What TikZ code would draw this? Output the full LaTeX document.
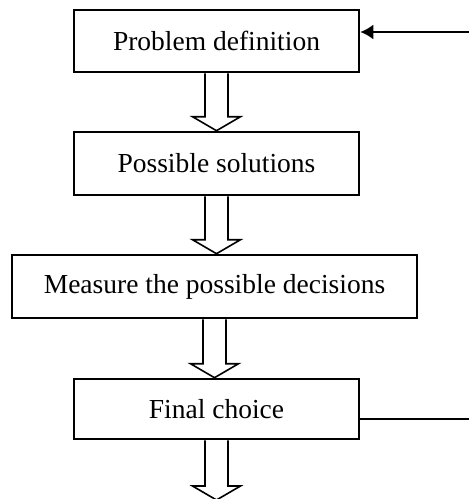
\documentclass[tikz,border=0pt]{standalone}
\usepackage{fontspec}
\setmainfont{Liberation Serif}
\usetikzlibrary{arrows.meta}

\tikzset{
  stage/.style={draw, line width=2.6pt, minimum width=285pt, minimum height=62pt,
    inner sep=0pt, font=\fontsize{27.5pt}{33pt}\selectfont},
  hollow/.style={draw, line width=1.6pt, fill=white},
  feedback/.style={line width=2pt},
}

% hollow block arrow from the bottom of #1 down to the point #2
\newcommand{\blockarrow}[2]{%
  \coordinate (tip) at (#1.south |- #2);
  \draw[hollow] ([shift={(-11.5,0)}]#1.south) -- ([shift={(-11.5,-14)}]tip)
    -- ([shift={(-24,-14)}]tip) -- (tip) -- ([shift={(24,-14)}]tip)
    -- ([shift={(11.5,-14)}]tip) -- ([shift={(11.5,0)}]#1.south);
}

\begin{document}
\begin{tikzpicture}[x=1pt,y=-1pt]
\useasboundingbox (0,0) rectangle (469,499);

\node[stage] (prob) at (216.5,41) {Problem definition};
\node[stage, minimum height=63pt] (poss) at (216.5,163.5) {Possible solutions};
\node[stage, minimum width=405pt, minimum height=63pt] (meas) at (214.5,286.5) {Measure the possible decisions};
\node[stage, minimum height=60pt] (final) at (216.5,409) {Final choice};
\coordinate (out) at (216.5,500);

\blockarrow{prob}{poss.north}
\blockarrow{poss}{meas.north}
\blockarrow{meas}{final.north}
\blockarrow{final}{out}

% feedback loop, leaves the picture on the right
\coordinate (back) at (469,32);
\coordinate (loop) at (469,419);
\draw[feedback, -{Latex[length=13pt,width=15pt]}] (back) -- (prob.east |- back);
\draw[feedback] (final.east |- loop) -- (loop);
\end{tikzpicture}
\end{document}
